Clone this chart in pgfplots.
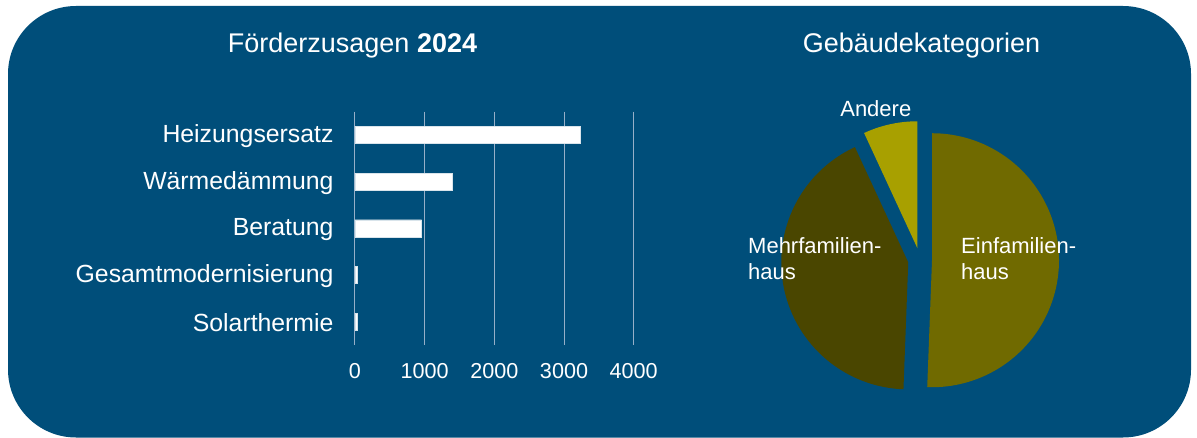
\documentclass[border=0pt]{standalone}
\usepackage{fontspec}
\setmainfont{Liberation Sans}
\usepackage{pgfplots}
\pgfplotsset{compat=1.18}
\definecolor{bg}{RGB}{0,78,122}
\definecolor{gridc}{RGB}{150,175,200}
\definecolor{ein}{RGB}{112,106,0}
\definecolor{mehr}{RGB}{74,70,0}
\definecolor{andere}{RGB}{168,160,0}
\begin{document}
\begin{tikzpicture}[x=1pt,y=1pt]
% pie data (percent)
\def\pEin{50.6}\def\pMehr{42.5}\def\pAnd{6.9}
\def\cx{920}\def\cy{177}\def\rr{127}\def\ex{12}
\pgfmathsetmacro{\aA}{90-3.6*\pEin}
\pgfmathsetmacro{\aB}{\aA-3.6*\pMehr}
\pgfmathsetmacro{\aC}{\aB-3.6*\pAnd}
\pgfmathsetmacro{\bA}{(90+\aA)/2}
\pgfmathsetmacro{\bB}{(\aA+\aB)/2}
\pgfmathsetmacro{\bC}{(\aB+\aC)/2}
\pgfmathsetmacro{\xA}{\cx+\ex*cos(\bA)}\pgfmathsetmacro{\yA}{\cy+\ex*sin(\bA)}
\pgfmathsetmacro{\xB}{\cx+\ex*cos(\bB)}\pgfmathsetmacro{\yB}{\cy+\ex*sin(\bB)}
\pgfmathsetmacro{\xC}{\cx+\ex*cos(\bC)}\pgfmathsetmacro{\yC}{\cy+\ex*sin(\bC)}
\useasboundingbox (0,0) rectangle (1197,437);
\fill[white] (0,0) rectangle (1197,437);
\fill[bg, rounded corners=68pt] (8,-0.5) rectangle (1191,431);

\begin{axis}[
 at={(355pt,92pt)}, anchor=south west, scale only axis,
 width=278.7pt, height=233.3pt,
 xbar, bar width=17.3pt,
 xmin=0, xmax=4000, ymin=-0.5, ymax=4.5, y dir=reverse,
 xtick={0,1000,2000,3000,4000},
 ytick={0,1,2,3,4},
 yticklabels={Heizungsersatz,Wärmedämmung,Beratung,Gesamtmodernisierung,Solarthermie},
 xmajorgrids, major grid style={gridc, line width=1pt},
 axis line style={draw=none}, major tick length=0pt,
 tick label style={text=white},
 yticklabel style={font=\fontsize{24.8}{28}\selectfont, xshift=-18pt, yshift=-1pt},
 xticklabel style={font=\fontsize{21.6}{25}\selectfont, yshift=-15pt},
 /pgf/number format/assume math mode=true,
 /pgf/number format/set thousands separator={},
]
\addplot[fill=white, draw=white!85!bg] coordinates {(3228,0) (1401,1) (957,2) (38,3) (29,4)};
\end{axis}

\begin{axis}[
 at={(0pt,0pt)}, anchor=south west, x=1pt, y=1pt,
 xmin=0, xmax=1197, ymin=0, ymax=437, hide axis, clip=false,
]
\addplot[fill=ein, draw=none, domain=\aA:90, samples=100] ({\xA+\rr*cos(x)}, {\yA+\rr*sin(x)}) -- (axis cs:\xA,\yA) -- cycle;
\addplot[fill=mehr, draw=none, domain=\aB:\aA, samples=100] ({\xB+\rr*cos(x)}, {\yB+\rr*sin(x)}) -- (axis cs:\xB,\yB) -- cycle;
\addplot[fill=andere, draw=none, domain=\aC:\aB, samples=30] ({\xC+\rr*cos(x)}, {\yC+\rr*sin(x)}) -- (axis cs:\xC,\yC) -- cycle;
\end{axis}

\node[anchor=base, font=\fontsize{27}{30}\selectfont, text=white] at (352.5,384) {Förderzusagen \textbf{2024}};
\node[anchor=base, font=\fontsize{27}{30}\selectfont, text=white] at (921.5,384) {Gebäudekategorien};
\begin{scope}[every node/.style={font=\fontsize{22}{25}\selectfont, text=white, inner sep=0pt}]
\node[anchor=base] at (875.8,320.3) {Andere};
\node[anchor=base west] at (748,183.7) {Mehrfamilien-};
\node[anchor=base west] at (748,157.7) {haus};
\node[anchor=base west] at (961,183.7) {Einfamilien-};
\node[anchor=base west] at (961,157.7) {haus};
\end{scope}
\end{tikzpicture}
\end{document}
